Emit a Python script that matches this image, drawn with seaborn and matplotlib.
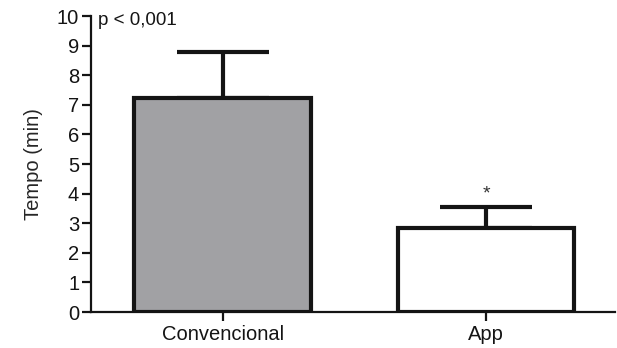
import matplotlib
matplotlib.use("Agg")
import matplotlib.pyplot as plt
import seaborn as sns
import pandas as pd

categories = ["Convencional", "App"]
means = [7.22, 2.84]
errors = [1.58, 0.71]
fill_colors = ["#a0a1a5", "#ffffff"]
p_text = "p < 0,001"
star_text = "*"

sns.set_theme(style="ticks")
plt.rcParams["font.family"] = ["Liberation Sans", "DejaVu Sans"]

df = pd.DataFrame({"grupo": categories, "tempo": means})

fig = plt.figure(figsize=(6.17, 3.48), dpi=100)
ax = fig.add_axes([0.1475, 0.1034, 0.8495, 0.8506])

ax.errorbar(range(len(categories)), means, yerr=[[0] * len(errors), errors],
            fmt="none", ecolor="#141414", elinewidth=3, capsize=33, capthick=3, zorder=1)

sns.barplot(data=df, x="grupo", y="tempo", hue="grupo", palette=fill_colors,
            width=0.67, edgecolor="#141414", linewidth=3, errorbar=None,
            legend=False, ax=ax, zorder=2)

ax.set_ylim(0, 10)
ax.set_xlim(-0.5, 1.49)
ax.set_yticks(range(0, 11))
ax.set_xlabel("")
ax.set_ylabel("Tempo (min)", fontsize=14.5, labelpad=10)

for s in ["top", "right"]:
    ax.spines[s].set_visible(False)
for s in ["left", "bottom"]:
    ax.spines[s].set_linewidth(1.6)
    ax.spines[s].set_color("#141414")

ax.tick_params(axis="both", labelsize=14.5, width=1.6, length=6.5, colors="#141414")
ax.tick_params(axis="x", pad=3)
ax.tick_params(axis="y", pad=2)

ax.text(-0.475, 9.85, p_text, fontsize=13.5, va="center", ha="left", color="#141414")
ax.text(1, 4.0, star_text, fontsize=14, va="center", ha="center", color="#333333")

fig.savefig("out.png", dpi=100)
